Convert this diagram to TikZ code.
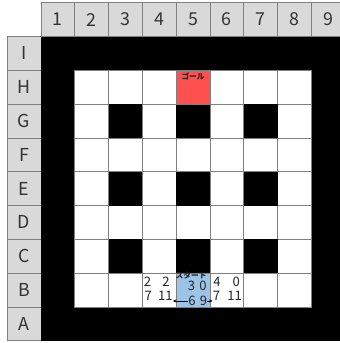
\documentclass[tikz,border=0pt]{standalone}
\usepackage{fontspec}
\setmainfont{Noto Sans CJK JP}
\usetikzlibrary{arrows.meta}
\definecolor{hdrgray}{RGB}{217,217,217}
\definecolor{edgegray}{RGB}{128,128,128}
\definecolor{goalred}{RGB}{255,80,80}
\definecolor{startblue}{RGB}{157,195,230}

\begin{document}
\begin{tikzpicture}[
    hdr/.style={draw=edgegray, fill=hdrgray, line width=0.6pt},
    hdrlabel/.style={font=\fontsize{15}{16}\selectfont, text=black!80},
    cell/.style={draw=edgegray, fill=white, line width=0.6pt},
    val/.style={font=\fontsize{11}{12}\selectfont, inner sep=0pt, text height=8pt, text depth=0pt, text=black!85},
    tag/.style={font=\bfseries\fontsize{6.5}{7}\selectfont, inner sep=0pt, text height=5pt, text depth=0pt, text=black!85},
    move/.style={-{Stealth[length=3pt, width=2.6pt]}, line width=0.5pt}
  ]
  \useasboundingbox (-1.213,1.08) rectangle (8.846,-9.068);

  % headers
  \foreach \c in {1,...,9} {
    \draw[hdr] (\c-1,0) rectangle (\c,1);
    \node[hdrlabel] (col\c) at (\c-0.5,0.5) {\c};
  }
  \foreach \r [count=\i] in {I,H,G,F,E,D,C,B,A} {
    \draw[hdr] (-1,-\i) rectangle (0,1-\i);
    \node[hdrlabel] (row\r) at (-0.5,0.5-\i) {\r};
  }

  % maze
  \fill[black] (0,0) rectangle (9,-9);
  \foreach \c in {2,...,8}
    \foreach \i in {2,...,8}
      \draw[cell] (\c-1,1-\i) rectangle (\c,-\i);
  \foreach \c in {3,5,7}
    \foreach \i in {3,5,7}
      \fill[black] (\c-1,1-\i) rectangle (\c,-\i);

  \draw[cell, fill=goalred] (4,-1) rectangle (5,-2);
  \node[tag] (goal) at (4.5,-1.18) {ゴール};

  \draw[cell, fill=startblue] (4,-7) rectangle (5,-8);
  \node[tag] (start) at (4.44,-7.086) {スタート};

  % values around the start
  \node[val] (w2a) at (3.15,-7.263) {2};
  \node[val] (w2b) at (3.70,-7.263) {2};
  \node[val] (w7) at (3.17,-7.663) {7};
  \node[val] (w11) at (3.68,-7.663) {11};

  \node[val] (s3) at (4.453,-7.38) {3};
  \node[val] (s0) at (4.793,-7.38) {0};
  \node[val] (s6) at (4.467,-7.825) {6};
  \node[val] (s9) at (4.808,-7.825) {9};

  \node[val] (e4) at (5.207,-7.263) {4};
  \node[val] (e0) at (5.777,-7.263) {0};
  \node[val] (e7) at (5.192,-7.663) {7};
  \node[val] (e11) at (5.725,-7.663) {11};

  \draw[move] (s6.west) -- (s6.west -| w11.east);
  \draw[move] (s9.east) -- (s9.east -| e7.west);
\end{tikzpicture}
\end{document}
